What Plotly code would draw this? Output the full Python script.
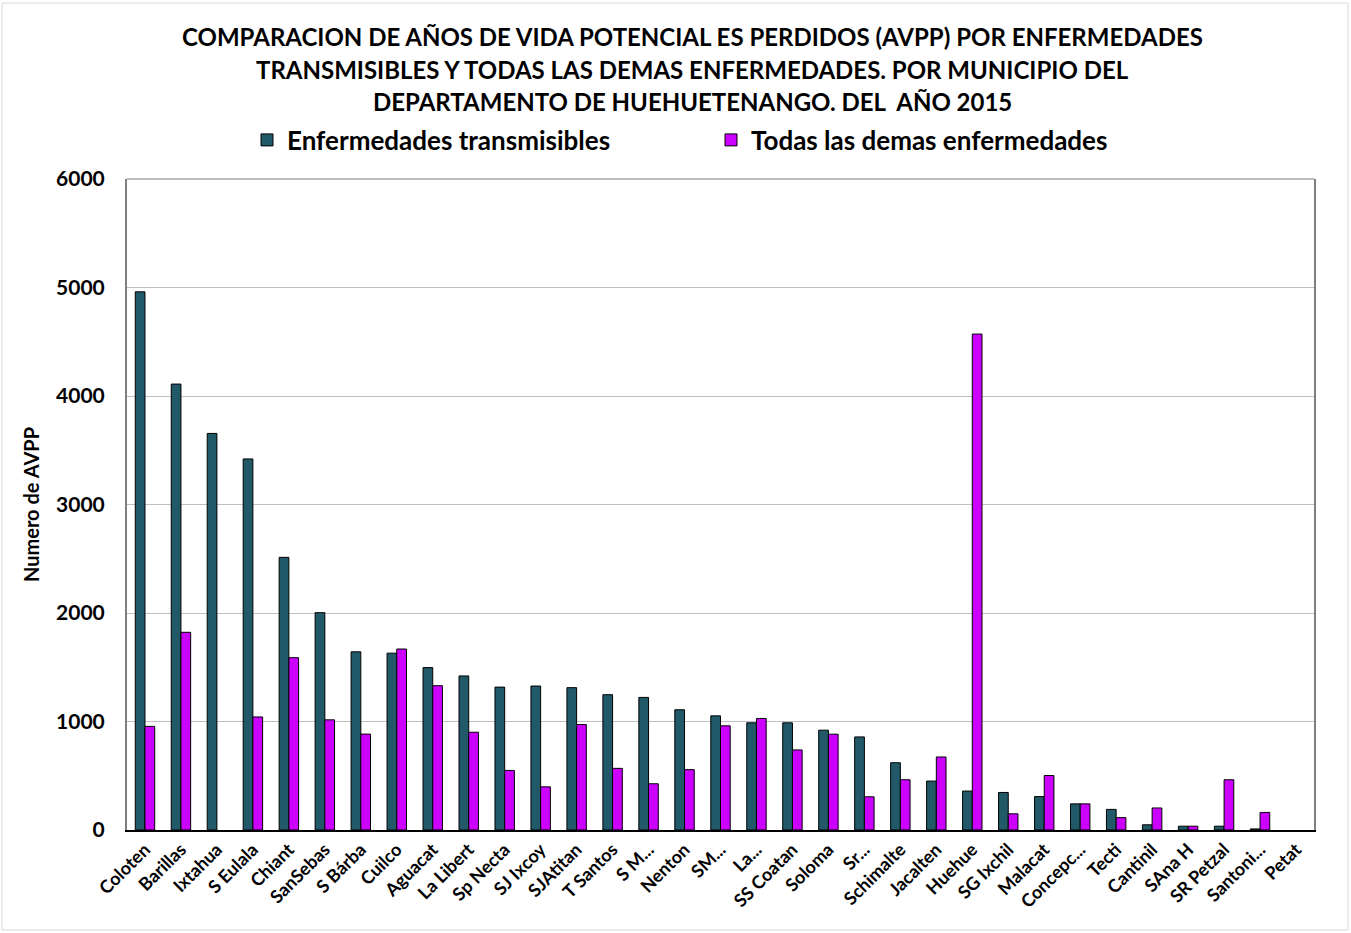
import plotly.graph_objects as go

municipios = ["Coloten", "Barillas", "Ixtahua", "S Eulala", "Chiant", "SanSebas", "S Bárba", "Cuilco",
              "Aguacat", "La Libert", "Sp Necta", "SJ Ixcoy", "SJAtitan", "T Santos", "S M...", "Nenton",
              "SM...", "La...", "SS Coatan", "Soloma", "Sr...", "Schimalte", "Jacalten", "Huehue",
              "SG Ixchil", "Malacat", "Concepc...", "Tecti", "Cantinil", "SAna H", "SR Petzal", "Santoni...", "Petat"]
transmisibles = [4960, 4110, 3655, 3420, 2513, 2003, 1642, 1630, 1497, 1420, 1317, 1327, 1312, 1247, 1222, 1108,
                 1052, 988, 988, 920, 858, 620, 451, 359, 346, 308, 241, 190, 48, 35, 35, 10, 0]
demas = [955, 1822, 0, 1042, 1588, 1015, 884, 1668, 1330, 901, 549, 398, 972, 568, 426, 556,
         960, 1028, 738, 883, 306, 463, 673, 4571, 149, 502, 241, 114, 203, 35, 463, 162, 0]
titulo = ["COMPARACION DE AÑOS DE VIDA POTENCIAL ES PERDIDOS (AVPP) POR ENFERMEDADES",
          "TRANSMISIBLES Y TODAS LAS DEMAS ENFERMEDADES. POR MUNICIPIO DEL",
          "DEPARTAMENTO DE HUEHUETENANGO. DEL  AÑO 2015"]

FONT = "Lato"
PLOT_TOP, PLOT_BOTTOM, PLOT_H = 179, 830, 651


def outline(vals):
    return [0 if v == 0 else 1 for v in vals]


fig = go.Figure()
fig.add_trace(go.Bar(x=municipios, y=transmisibles, name="Enfermedades transmisibles",
                     marker=dict(color="#215968", line=dict(color="#000000", width=outline(transmisibles)))))
fig.add_trace(go.Bar(x=municipios, y=demas, name="Todas las demas enfermedades",
                     marker=dict(color="#CC00FF", line=dict(color="#000000", width=outline(demas)))))

fig.update_layout(
    width=1351, height=933,
    margin=dict(l=127, r=37, t=179, b=103),
    paper_bgcolor="white", plot_bgcolor="white",
    barmode="group", bargap=0.46, bargroupgap=0,
    font=dict(family=FONT, color="#000000"),
    legend=dict(orientation="h", x=0.492, xanchor="center", y=(PLOT_BOTTOM - 140) / PLOT_H, yanchor="middle",
                font=dict(family=FONT, size=26, weight="bold"),
                entrywidth=419, entrywidthmode="pixels",
                itemwidth=30, bgcolor="rgba(0,0,0,0)"),
    showlegend=True,
)
title_y = [36, 69, 101]
for txt, py in zip(titulo, title_y):
    fig.add_annotation(text=txt, xref="paper", yref="paper", x=(692 - 127) / 1187,
                       y=(PLOT_BOTTOM - py) / PLOT_H, xanchor="center", yanchor="middle",
                       showarrow=False, font=dict(family=FONT, size=24, weight="bold", color="#000000"))

fig.update_xaxes(
    tickangle=-45, tickfont=dict(family=FONT, size=18, weight="bold"),
    showline=True, linecolor="#000000", linewidth=2, ticks="", showgrid=False,
)
fig.update_yaxes(
    range=[0, 6000], dtick=1000, tickformat="d",
    tickfont=dict(family=FONT, size=21, weight="bold"), ticklabelstandoff=16,
    showgrid=True, gridcolor="#BFBFBF", gridwidth=1,
    showline=True, linecolor="#7F7F7F", linewidth=2, mirror=True, ticks="",
    title=dict(text="Numero de AVPP", font=dict(family=FONT, size=20, weight="bold"), standoff=11),
    zeroline=False,
)
# top border of plot area
fig.add_shape(type="line", xref="paper", yref="paper", x0=0, x1=1, y0=1, y1=1,
              line=dict(color="#A6A6A6", width=1.5))
# outer chart border
fig.add_shape(type="rect", xref="paper", yref="paper",
              x0=-125 / 1187, x1=(1348 - 127) / 1187, y0=-100 / PLOT_H, y1=1 + 176 / PLOT_H,
              line=dict(color="#D9D9D9", width=1), layer="below")

fig.write_html("out.html")
